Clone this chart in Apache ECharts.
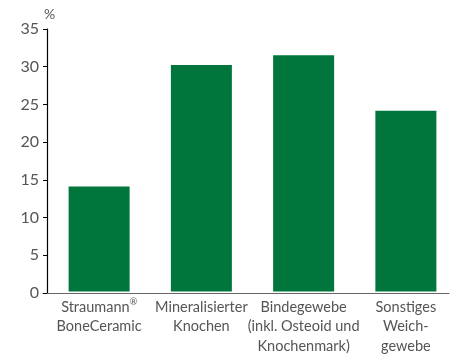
<!DOCTYPE html>
<html><head><meta charset="utf-8">
<script src="https://cdn.jsdelivr.net/npm/echarts@6/dist/echarts.min.js"></script>
<style>html,body{margin:0;padding:0;background:#fff}#c{width:457px;height:356px}</style>
</head><body><div id="c"></div>
<script>
const categories = ['Straumann®\nBoneCeramic', 'Mineralisierter\nKnochen', 'Bindegewebe\n(inkl. Osteoid und\nKnochenmark)', 'Sonstiges\nWeich-\ngewebe'];
const values = [14.0, 30.2, 31.5, 24.1];
const yTicks = { min: 0, max: 35, interval: 5 };
const unit = '%';

const txt = '#555';
const font = 'Lato';
const chart = echarts.init(document.getElementById('c'), null, {renderer: 'canvas'});
chart.setOption({
  animation: false,
  grid: [
    {left: 48, right: -3, top: 29, bottom: 63},
    {left: 43, right: 8, top: 29, bottom: 63}
  ],
  xAxis: [
    {type: 'category', gridIndex: 0, data: categories,
     axisLine: {show: false}, axisTick: {show: false},
     axisLabel: {color: txt, fontFamily: font, fontSize: 14.5, lineHeight: 19.5, margin: 6, interval: 0,
       formatter: v => v.split('\n').map(l => l.replace('®', '{sup|®}')).join('\n'),
       rich: {sup: {fontSize: 9, fontFamily: font, color: txt, verticalAlign: 'top', lineHeight: 19.5, padding: [0,0,6,0]}}}},
    {type: 'category', gridIndex: 1, data: categories,
     axisLine: {show: true, lineStyle: {color: '#666', width: 1.2}}, axisTick: {show: false}, axisLabel: {show: false}}
  ],
  yAxis: [
    {type: 'value', gridIndex: 0, min: yTicks.min, max: yTicks.max, interval: yTicks.interval, show: false},
    {type: 'value', gridIndex: 1, min: yTicks.min, max: yTicks.max, interval: yTicks.interval,
     offset: -4,
     name: unit, nameGap: 6, nameTextStyle: {color: txt, fontFamily: font, fontSize: 14, align: 'left', padding: [0,0,0,-3]},
     axisLine: {show: true, lineStyle: {color: '#000', width: 1.2}},
     axisTick: {show: true, length: 4, lineStyle: {color: '#000'}},
     splitLine: {show: false},
     axisLabel: {color: txt, fontFamily: font, fontSize: 16, margin: 8}}
  ],
  series: [{
    type: 'bar', xAxisIndex: 0, yAxisIndex: 0, data: values,
    barWidth: 61, itemStyle: {color: '#00763C'}
  }]
});
</script></body></html>
